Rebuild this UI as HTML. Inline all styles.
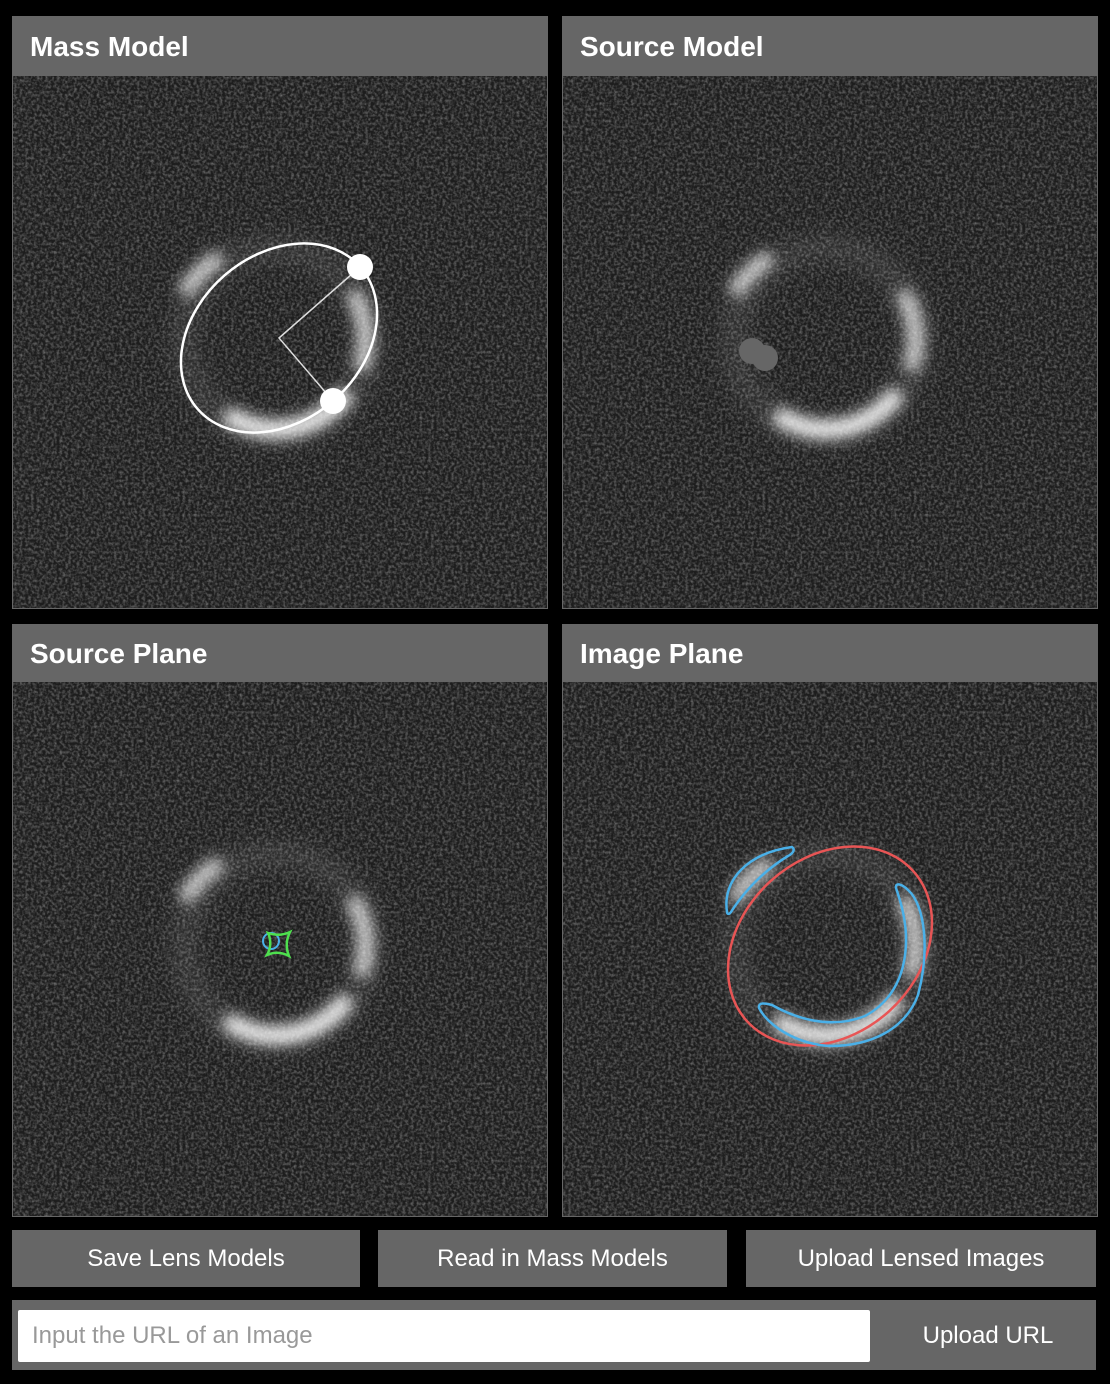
<!DOCTYPE html>
<html><head><meta charset="utf-8">
<style>
html,body{margin:0;padding:0;background:#000;width:1110px;height:1384px;overflow:hidden;font-family:"Liberation Sans",sans-serif}
.hdr{position:absolute;left:0;top:0;width:536px;height:60px;background:#666;color:#fff;font-weight:bold;font-size:28px;line-height:62px;text-indent:18px}
.btn{position:absolute;top:1230px;height:57px;background:#666;color:#fff;font-size:24px;line-height:58px;text-align:center}
</style></head><body>
<svg width="1110" height="1384" style="position:absolute;left:0;top:0">
<defs>
<filter id="noise" x="0" y="0" width="100%" height="100%">
<feTurbulence type="fractalNoise" baseFrequency="0.35" numOctaves="2" seed="3"/>
<feColorMatrix type="matrix" values="0 0 0 0 0.3  0 0 0 0 0.3  0 0 0 0 0.3  1.2 0 0 0 -0.45"/>
</filter>
<filter id="blur" filterUnits="userSpaceOnUse" x="-200" y="-200" width="400" height="400"><feGaussianBlur stdDeviation="7"/></filter>
<filter id="blur2" filterUnits="userSpaceOnUse" x="-200" y="-200" width="400" height="400"><feGaussianBlur stdDeviation="10"/></filter>
<g id="ring">
<circle cx="0" cy="0" r="92" fill="none" stroke="#fff" stroke-opacity="0.1" stroke-width="24" filter="url(#blur2)"/>
<path d="M -92 -46 A 100 100 0 0 1 -55 -83" fill="none" stroke="#fff" stroke-opacity="0.75" stroke-width="16" filter="url(#blur)"/>
<path d="M 76 -48 A 88 88 0 0 1 84 30" fill="none" stroke="#fff" stroke-opacity="0.75" stroke-width="16" filter="url(#blur)"/>
<path d="M 72 52 A 88 88 0 0 1 -50 74" fill="none" stroke="#fff" stroke-opacity="0.9" stroke-width="18" filter="url(#blur)"/>
</g>
</defs>
<rect x="12" y="16" width="536" height="593" fill="#666"/>
<rect x="562" y="16" width="536" height="593" fill="#666"/>
<rect x="12" y="624" width="536" height="593" fill="#666"/>
<rect x="562" y="624" width="536" height="593" fill="#666"/>
<g>
<rect x="13" y="76" width="534" height="532" fill="#1d1d1d"/><rect x="13" y="76" width="534" height="532" filter="url(#noise)"/>
<use href="#ring" x="276" y="340"/>
</g>
<g>
<rect x="563" y="76" width="534" height="532" fill="#1d1d1d"/><rect x="563" y="76" width="534" height="532" filter="url(#noise)"/>
<use href="#ring" x="826" y="340"/>
</g>
<g>
<rect x="13" y="682" width="534" height="534" fill="#1d1d1d"/><rect x="13" y="682" width="534" height="534" filter="url(#noise)"/>
<use href="#ring" x="276" y="946"/>
</g>
<g>
<rect x="563" y="682" width="534" height="534" fill="#1d1d1d"/><rect x="563" y="682" width="534" height="534" filter="url(#noise)"/>
<use href="#ring" x="826" y="946"/>
</g>
<g>
<ellipse cx="279" cy="338" rx="108" ry="83" transform="rotate(-41 279 338)" fill="none" stroke="#fff" stroke-width="2.5"/>
<polyline points="360,267 279,338 333,401" fill="none" stroke="#ddd" stroke-width="1.5"/>
</g>
<circle cx="360" cy="267" r="13" fill="#fff"/>
<circle cx="333" cy="401" r="13" fill="#fff"/>
<g>
<circle cx="752" cy="351" r="13" fill="#666"/><circle cx="765" cy="358" r="13" fill="#666"/>
</g>
<g>
<circle cx="271" cy="941" r="8" fill="none" stroke="#4ab0e8" stroke-width="2"/>
<path d="M268 933 Q279 937 290 932 Q284 944 289 956 Q278 950 267 955 Q273 944 268 933Z" fill="none" stroke="#4ee04e" stroke-width="2.5"/>
</g>
<ellipse cx="830" cy="946" rx="112" ry="88" transform="rotate(-42 830 946)" fill="none" stroke="#e85555" stroke-width="2.5"/>
<g fill="none" stroke="#4ab0e8" stroke-width="2.5">
<path d="M727 912 C722 880 748 853 792 847 C796 850 792 854 788 856 C765 870 745 890 731 912 C729 915 727 914 727 912Z"/>
<path d="M896 888 C895 882 902 884 908 890 C925 905 930 950 918 995 C905 1030 870 1046 830 1046 C795 1044 768 1025 759 1008 C758 1002 765 1003 772 1005 C795 1018 830 1030 865 1016 C895 1000 907 970 906 935 C905 915 900 900 896 888Z"/>
</g>
</svg>
<div class="hdr" style="left:12px;top:16px">Mass Model</div>
<div class="hdr" style="left:562px;top:16px">Source Model</div>
<div class="hdr" style="left:12px;top:624px;height:58px;line-height:60px">Source Plane</div>
<div class="hdr" style="left:562px;top:624px;height:58px;line-height:60px">Image Plane</div>
<div class="btn" style="left:12px;width:348px">Save Lens Models</div>
<div class="btn" style="left:378px;width:349px">Read in Mass Models</div>
<div class="btn" style="left:746px;width:350px">Upload Lensed Images</div>
<div style="position:absolute;left:12px;top:1300px;width:1084px;height:70px;background:#666"></div>
<div style="position:absolute;left:18px;top:1310px;width:852px;height:52px;background:#fff;border-radius:2px;color:#999;font-size:24px;line-height:52px;text-indent:14px">Input the URL of an Image</div>
<div style="position:absolute;left:880px;top:1310px;width:216px;height:52px;color:#fff;font-size:24px;line-height:52px;text-align:center">Upload URL</div>
</body></html>
